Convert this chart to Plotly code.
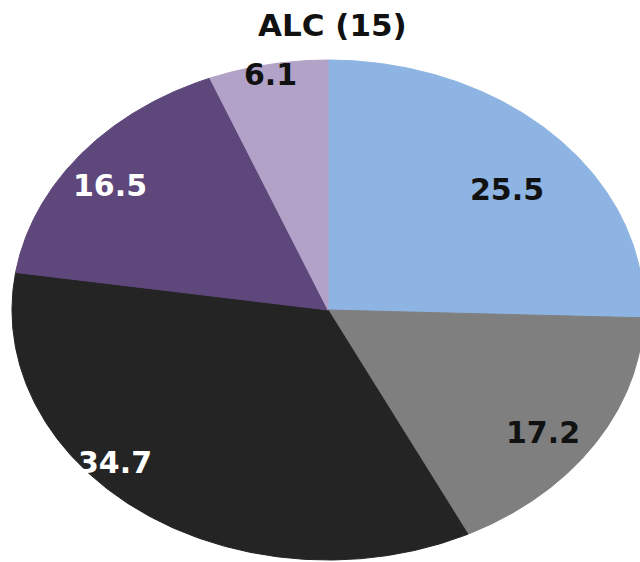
import numpy as np
import plotly.graph_objects as go

# ---- data ----
title_text = "ALC (15)"
slice_labels = ["25.5", "17.2", "34.7", "16.5", "6.1"]
slice_values = [25.5, 17.2, 34.7, 16.5, 6.1]

# ---- style ----
slice_colors = ["#8DB4E2", "#7F7F7F", "#242424", "#5E477B", "#B3A2C7"]
label_colors = ["#111111", "#111111", "#FFFFFF", "#FFFFFF", "#111111"]
label_r = [0.745, 0.84, 0.91, 0.85, 0.96]
label_shift_deg = [3.6, 3.0, 11.6, -2.6, 0.0]
CX, CY, RX, RY = 328, 310, 316, 250
W, H = 640, 562
FONT = "DejaVu Sans"

fig = go.Figure()
total = sum(slice_values)
start = 0.0
annotations = []
for val, lab, col, lcol, lr, sh in zip(slice_values, slice_labels, slice_colors,
                                       label_colors, label_r, label_shift_deg):
    a0 = start / total * 360.0
    a1 = (start + val) / total * 360.0
    th = np.radians(np.linspace(a0, a1, 200))
    xs = np.concatenate([[CX], CX + RX * np.sin(th), [CX]])
    ys = np.concatenate([[CY], CY - RY * np.cos(th), [CY]])
    fig.add_trace(go.Scatter(x=xs, y=ys, mode="lines", fill="toself",
                             fillcolor=col, line=dict(color=col, width=1),
                             hoverinfo="skip", showlegend=False))
    am = np.radians((a0 + a1) / 2 + sh)
    annotations.append(dict(x=CX + lr * RX * np.sin(am), y=CY - lr * RY * np.cos(am),
                            xref="x", yref="y", text=f"<b>{lab}</b>", showarrow=False,
                            font=dict(family=FONT, size=30, color=lcol)))
    start += val

annotations.append(dict(x=332, y=25, xref="x", yref="y", text=f"<b>{title_text}</b>",
                        showarrow=False, font=dict(family=FONT, size=31, color="#111111")))

fig.update_layout(width=W, height=H, margin=dict(l=0, r=0, t=0, b=0),
                  paper_bgcolor="white", plot_bgcolor="white",
                  xaxis=dict(range=[0, W], visible=False, fixedrange=True),
                  yaxis=dict(range=[H, 0], visible=False, fixedrange=True),
                  annotations=annotations)
fig.write_html("out.html")
